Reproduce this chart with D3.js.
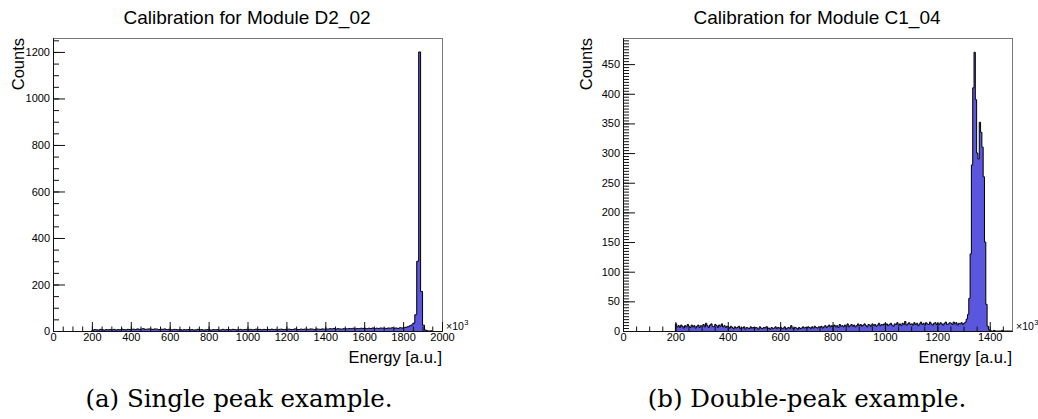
<!DOCTYPE html>
<html>
<head>
<meta charset="utf-8">
<script src="https://cdn.jsdelivr.net/npm/d3@7"></script>
<style>
body { margin: 0; background: #fff; }
svg text { font-family: "Liberation Sans", Arial, Helvetica, sans-serif; fill: #000; }
svg text.caption { font-family: "DejaVu Serif", serif; }
</style>
</head>
<body>
<svg id="chart" width="1038" height="419"></svg>
<script>
// (a) module D2_02: counts per 10-unit bin, first bin starts at 200
var single_start = 200;
var single_bin = 10;
var single_counts = [
    3, 6, 5, 4, 7, 5, 4, 6, 5, 6,
    5, 7, 4, 6, 5, 8, 6, 5, 7, 6,
    7, 8, 6, 9, 7, 8, 10, 7, 8, 9,
    8, 7, 9, 8, 6, 8, 7, 9, 6, 7,
    6, 5, 7, 6, 5, 6, 4, 6, 5, 6,
    5, 6, 4, 5, 7, 5, 6, 4, 5, 6,
    5, 4, 6, 5, 6, 4, 5, 7, 5, 6,
    6, 5, 7, 6, 5, 6, 7, 5, 6, 7,
    6, 7, 5, 6, 8, 6, 7, 5, 7, 6,
    7, 6, 8, 6, 7, 5, 7, 8, 6, 7,
    7, 8, 6, 7, 9, 7, 6, 8, 7, 8,
    8, 7, 9, 8, 6, 9, 8, 7, 9, 8,
    9, 8, 10, 9, 11, 8, 10, 9, 8, 10,
    10, 9, 11, 10, 12, 9, 11, 10, 12, 11,
    11, 10, 12, 11, 13, 10, 12, 11, 13, 12,
    12, 11, 13, 12, 14, 12, 13, 11, 14, 13,
    14, 16, 18, 22, 26, 34, 70, 300, 1200, 170,
    25, 4, 1, 0, 1
];

// (b) module C1_04: counts per 5-unit bin, first bin starts at 200
var double_start = 200;
var double_bin = 5;
var double_counts = [
    12, 7, 9, 6, 10, 8, 5, 9, 7, 11, 8, 6, 10, 7, 9, 5, 8, 10, 6, 9,
    8, 11, 7, 13, 9, 6, 10, 12, 8, 7, 11, 9, 6, 10, 8, 12, 7, 9, 6, 8,
    7, 5, 8, 6, 4, 7, 5, 6, 8, 4, 6, 5, 7, 3, 6, 5, 4, 7, 5, 6,
    4, 6, 5, 3, 7, 5, 4, 6, 5, 7, 4, 5, 3, 6, 4, 5, 7, 4, 6, 5,
    6, 4, 5, 7, 3, 5, 6, 4, 9, 5, 4, 6, 5, 3, 6, 4, 5, 7, 5, 6,
    5, 7, 6, 4, 7, 5, 8, 6, 5, 7, 6, 8, 5, 7, 9, 6, 8, 10, 7, 9,
    8, 10, 7, 9, 6, 11, 8, 9, 7, 10, 8, 12, 7, 9, 11, 8, 10, 7, 9, 12,
    9, 11, 8, 10, 12, 9, 7, 11, 10, 8, 12, 9, 11, 8, 10, 13, 9, 11, 10, 12,
    10, 12, 9, 11, 13, 10, 8, 12, 11, 14, 10, 12, 9, 13, 11, 16, 10, 12, 14, 11,
    12, 10, 14, 11, 13, 9, 12, 15, 11, 13, 10, 14, 12, 11, 15, 12, 10, 13, 14, 11,
    13, 11, 14, 12, 10, 13, 15, 11, 12, 14, 13, 11, 15, 12, 14, 10, 13, 12, 14, 11,
    13, 15, 20, 28, 55, 130, 280, 410, 470, 390, 300, 290, 352, 335, 310, 260, 150, 45, 8, 2,
    1, 0, 0, 1, 0, 0, 0, 0, 0, 1, 0, 0, 0, 0, 0, 0, 0
];

var titles = ['Calibration for Module D2_02', 'Calibration for Module C1_04'];
var captions = ['(a) Single peak example.', '(b) Double-peak example.'];
var x_max = [2000, 1485];
var y_max = [1260, 494];
var y_major = [200, 50];
var y_minor = [50, 5];

var svg = d3.select('#chart');

var frame_top = 38;
var frame_bottom = 331;
var fill_color = '#5a56de';

var panels = [
    {left: 53, right: 442, title_x: 247, caption_x: 239, counts_x: 24,
     start: single_start, bin: single_bin, counts: single_counts},
    {left: 623, right: 1012, title_x: 817, caption_x: 807, counts_x: 592,
     start: double_start, bin: double_bin, counts: double_counts}
];

var draw_panel = function(p, k) {
    var g = svg.append('g');

    var x = d3.scaleLinear().domain([0, x_max[k]]).range([p.left, p.right]);
    var y = d3.scaleLinear().domain([0, y_max[k]]).range([frame_bottom, frame_top]);

    // bin edges -> step points, closed down to zero at both ends
    var pts = [{e: p.start, c: 0}];
    p.counts.forEach(function(c, i) { pts.push({e: p.start + i * p.bin, c: c}); });
    pts.push({e: p.start + p.counts.length * p.bin, c: 0});

    g.append('rect')
        .attr('x', p.left + 0.5)
        .attr('y', frame_top + 0.5)
        .attr('width', p.right - p.left)
        .attr('height', frame_bottom - frame_top)
        .attr('fill', 'none')
        .attr('stroke', '#777');

    g.append('path')
        .datum(pts)
        .attr('fill', fill_color)
        .attr('d', d3.area()
              .curve(d3.curveStepAfter)
              .x(function(d) { return x(d.e); })
              .y0(y(0))
              .y1(function(d) { return y(d.c); }));

    g.append('path')
        .datum(pts)
        .attr('fill', 'none')
        .attr('stroke', '#000')
        .attr('stroke-width', 1)
        .attr('d', d3.line()
              .curve(d3.curveStepAfter)
              .x(function(d) { return x(d.e); })
              .y(function(d) { return y(d.c); }));

    // x axis, ROOT style ticks pointing inside
    g.append('g')
        .attr('transform', 'translate(0,' + frame_bottom + ')')
        .call(d3.axisBottom(x)
              .tickValues(d3.range(0, x_max[k] + 1, 50))
              .tickSize(-4.5).tickSizeOuter(0).tickFormat(''));
    g.append('g')
        .attr('transform', 'translate(0,' + frame_bottom + ')')
        .call(d3.axisBottom(x)
              .tickValues(d3.range(0, x_max[k] + 1, 200))
              .tickSize(-9).tickSizeOuter(0).tickPadding(2)
              .tickFormat(d3.format('d')));

    g.append('g')
        .attr('transform', 'translate(' + p.left + ',0)')
        .call(d3.axisLeft(y)
              .tickValues(d3.range(0, y_max[k], y_minor[k]))
              .tickSize(-6).tickSizeOuter(0).tickFormat(''));
    g.append('g')
        .attr('transform', 'translate(' + p.left + ',0)')
        .call(d3.axisLeft(y)
              .tickValues(d3.range(0, y_max[k], y_major[k]))
              .tickSize(-12).tickSizeOuter(0).tickPadding(3)
              .tickFormat(d3.format('d')));

    g.selectAll('.tick line').attr('stroke', '#111');
    g.selectAll('.domain').attr('stroke', '#111');
    g.selectAll('.tick text')
        .attr('font-family', '"Liberation Sans", Arial, sans-serif')
        .attr('font-size', 11)
        .attr('fill', '#000');

    // x10^3 exponent label, sitting just above the last tick label
    var mult = g.append('text')
        .attr('x', p.right + 4)
        .attr('y', frame_bottom - 1)
        .attr('font-size', 10.5)
        .text('\u00d710');
    g.append('text')
        .attr('x', p.right + 4 + mult.node().getComputedTextLength() + 0.5)
        .attr('y', frame_bottom - 6)
        .attr('font-size', 7.5)
        .text('3');

    g.append('text')
        .attr('text-anchor', 'end')
        .attr('x', p.right)
        .attr('y', 363)
        .attr('font-size', 16.5)
        .text('Energy [a.u.]');

    g.append('text')
        .attr('text-anchor', 'end')
        .attr('transform', 'translate(' + p.counts_x + ',' + frame_top + ') rotate(-90)')
        .attr('font-size', 16.5)
        .text('Counts');

    g.append('text')
        .attr('text-anchor', 'middle')
        .attr('x', p.title_x)
        .attr('y', 24)
        .attr('font-size', 19)
        .text(titles[k]);

    g.append('text')
        .attr('class', 'caption')
        .attr('text-anchor', 'middle')
        .attr('x', p.caption_x)
        .attr('y', 407)
        .attr('font-size', 24.5)
        .text(captions[k]);
};

panels.forEach(draw_panel);
</script>
</body>
</html>
